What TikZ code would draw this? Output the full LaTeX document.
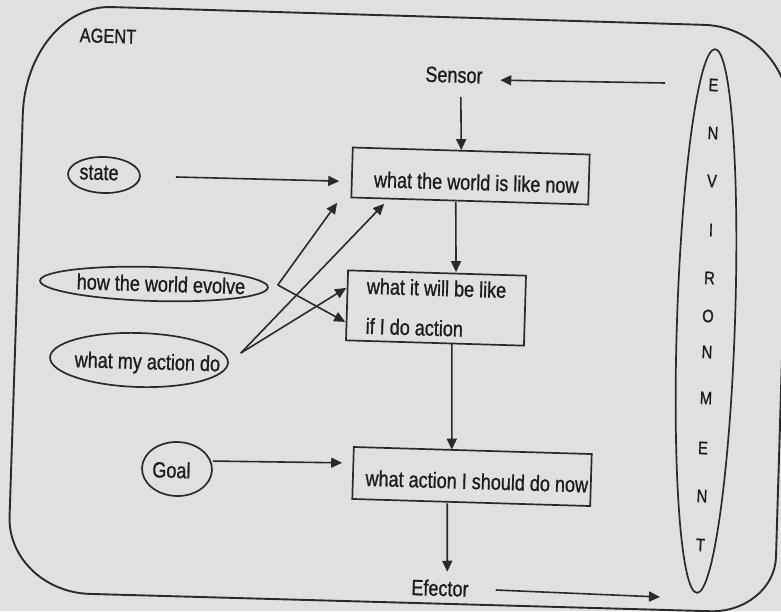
\documentclass[tikz,border=0pt]{standalone}
\usepackage{fontspec}
\setmainfont{Liberation Sans}[FakeStretch=0.82,FakeBold=0.9]
\usetikzlibrary{arrows.meta,shapes.geometric,calc}
\definecolor{paper}{RGB}{224,224,222}
\definecolor{inkc}{RGB}{42,42,42}
\definecolor{textc}{RGB}{28,28,28}
% zero-width centred text; the optional length nudges it sideways by half its value
\newcommand\ctr[2][0pt]{\makebox[0pt]{\hspace*{#1}#2}}
\begin{document}
\begin{tikzpicture}[x=1pt,y=-1pt,
  font=\fontsize{22}{26}\selectfont,
  every node/.append style={text=textc},
  stepbox/.style={draw=inkc, line width=1.7pt, rectangle, inner sep=0pt, rotate=-1.7},
  oval/.style={draw=inkc, line width=1.7pt, ellipse, inner sep=0pt, rotate=-1.7},
  txt/.style={inner sep=1pt, rotate=-1.7},
  envl/.style={inner sep=0pt, rotate=-1.9, font=\fontsize{18}{20}\selectfont},
  arr/.style={draw=inkc, line width=1.6pt, -{Triangle[length=11pt,width=10pt]}},
  bl/.style={text height=#1, text depth=0pt},
  frame/.style={draw=inkc, line width=1.9pt},
]
\useasboundingbox (0,0) rectangle (781,611);
\fill[paper] (0,0) rectangle (781,611);
\clip (0,0) rectangle (781,611);

% agent frame: a slightly tilted rounded box
\coordinate (TL) at (26.4,4.5);
\coordinate (TR) at (792,27.5);
\coordinate (BR) at (774.3,613);
\coordinate (BL) at (7.1,591.6);
\draw[frame] ($(TL)!110pt!(BL)$) .. controls ($(TL)!49pt!(BL)$) and ($(TL)!38pt!(TR)$) .. ($(TL)!85pt!(TR)$)
  -- ($(TR)!88pt!(TL)$) .. controls ($(TR)!39pt!(TL)$) and ($(TR)!40pt!(BR)$) .. ($(TR)!90pt!(BR)$)
  -- ($(BR)!56pt!(TR)$) .. controls ($(BR)!25pt!(TR)$) and ($(BR)!29pt!(BL)$) .. ($(BR)!64pt!(BL)$)
  -- ($(BL)!83pt!(BR)$) .. controls ($(BL)!37pt!(BR)$) and ($(BL)!34pt!(TL)$) .. ($(BL)!75pt!(TL)$)
  -- cycle;
\node[txt, font=\fontsize{20}{22}\selectfont] (agent) at (108,36) {AGENT};

% environment
\node[draw=inkc, line width=1.7pt, ellipse, minimum width=58pt, minimum height=544pt,
      inner sep=0pt, rotate=-1.9] (env) at (706,321) {};
\foreach \ch/\px/\py [count=\k] in {E/713.5/85, N/713/133, V/712/181, I/711/230, R/709.5/278,
    O/708/316, N/707/352, M/706/398, E/703/448, N/702/496, T/700.5/545}
  \node[envl] (env-\k) at (\px,\py) {\ch};

% sensor and effector
\node[txt] (sensor) at (454,75) {Sensor};
\node[txt] (efector) at (440,588) {Efector};
\coordinate (sensin) at (665,83);
\coordinate (effout) at (660,597);

% processing boxes
\node[stepbox, minimum width=237pt, minimum height=50pt, bl=28pt] (box1) at (470.5,176)
  {\ctr[12pt]{what the world is like now}};
\node[stepbox, minimum width=178pt, minimum height=70pt, align=left,
      font=\fontsize{22}{40}\selectfont] (box2) at (436,308)
  {what it will be like\\if I do action};
\node[stepbox, minimum width=238pt, minimum height=52pt, bl=25pt] (box3) at (472,476.5)
  {\ctr[10pt]{what action I should do now}};

% internal knowledge
\node[oval, minimum width=72pt, minimum height=36pt, bl=10pt] (state) at (104,175)
  {\ctr[-10pt]{state}};
\node[oval, minimum width=228pt, minimum height=34pt, bl=15pt] (evolve) at (154,284)
  {\ctr[14pt]{how the world evolve}};
\node[oval, minimum width=178pt, minimum height=54pt, bl=18pt] (action) at (139,360)
  {\ctr[17pt]{what my action do}};
\node[oval, minimum width=70pt, minimum height=54pt, bl=18pt] (goal) at (177,469)
  {\ctr[-11pt]{Goal}};

% main flow
\draw[arr, shorten >=16.5pt] (sensin) -- ($(sensor.east)+(0,4)$);
\draw[arr, shorten <=13pt] ($(sensor.south)+(7,0)$) -- ($(box1.north)+(-10,0)$);
\draw[arr] ($(box1.south)+(-14,0)$) -- ($(box2.north)+(19,0)$);
\draw[arr] ($(box2.south)+(17,0)$) -- ($(box3.north)+(-21,0)$);
\draw[arr, shorten >=7pt] ($(box3.south)+(-24,0)$) -- ($(efector.north)+(7,0)$);
\draw[arr, shorten <=26pt] (efector.east) -- (effout);

% knowledge feeding the boxes
\draw[arr, shorten <=35pt, shorten >=12pt] (state.east) -- ($(box1.west)+(0,9)$);
\draw[arr] ($(evolve.east)+(9,-2.4)$) -- ($(box1.south west)+(-13.3,4.5)$);
\draw[arr] ($(evolve.east)+(9,-2.4)$) -- ($(box2.west)+(-1,16.6)$);
\draw[arr] ($(action.east)+(12,-9.6)$) -- ($(box1.south west)+(33.7,5.5)$);
\draw[arr] ($(action.east)+(12,-9.6)$) -- ($(box2.west)+(0,-17.4)$);
\draw[arr, shorten >=10pt] ($(goal.east)+(0,-9)$) -- ($(box3.west)+(0,-10)$);
\end{tikzpicture}
\end{document}
